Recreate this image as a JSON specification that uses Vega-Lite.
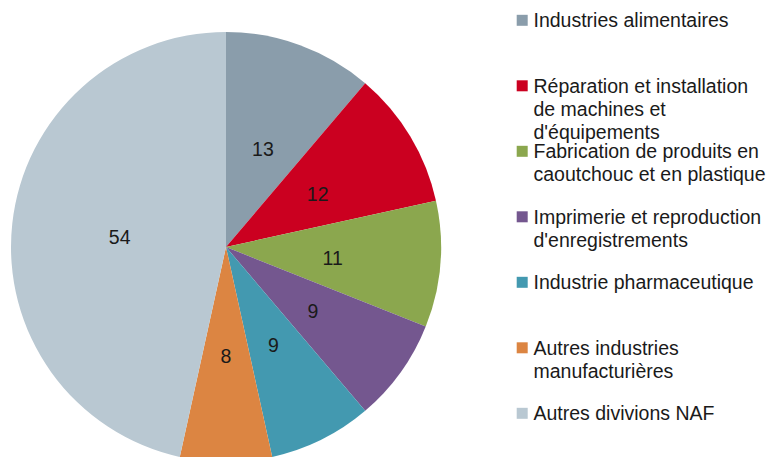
{
  "$schema": "https://vega.github.io/schema/vega-lite/v6.json",
  "padding": 0,
  "background": "white",
  "spacing": 64.7,
  "config": {
    "view": {"stroke": null},
    "font": "Liberation Sans"
  },
  "data": {
    "values": [
      {"category": "Industries alimentaires", "value": 13, "rank": 1, "lines": ["Industries alimentaires"]},
      {"category": "Réparation et installation de machines et d'équipements", "value": 12, "rank": 2, "lines": ["Réparation et installation", "de machines et", "d'équipements"]},
      {"category": "Fabrication de produits en caoutchouc et en plastique", "value": 11, "rank": 3, "lines": ["Fabrication de produits en", "caoutchouc et en plastique"]},
      {"category": "Imprimerie et reproduction d'enregistrements", "value": 9, "rank": 4, "lines": ["Imprimerie et reproduction", "d'enregistrements"]},
      {"category": "Industrie pharmaceutique", "value": 9, "rank": 5, "lines": ["Industrie pharmaceutique"]},
      {"category": "Autres industries manufacturières", "value": 8, "rank": 6, "lines": ["Autres industries", "manufacturières"]},
      {"category": "Autres divivions NAF", "value": 54, "rank": 7, "lines": ["Autres divivions NAF"]}
    ]
  },
  "hconcat": [
    {
      "width": 452,
      "height": 494,
      "encoding": {
        "theta": {"field": "value", "type": "quantitative", "stack": true},
        "order": {"field": "rank", "type": "quantitative"},
        "color": {
          "field": "category",
          "type": "nominal",
          "sort": null,
          "legend": null,
          "scale": {
            "domain": [
              "Industries alimentaires",
              "Réparation et installation de machines et d'équipements",
              "Fabrication de produits en caoutchouc et en plastique",
              "Imprimerie et reproduction d'enregistrements",
              "Industrie pharmaceutique",
              "Autres industries manufacturières",
              "Autres divivions NAF"
            ],
            "range": ["#8A9DAB", "#CB0020", "#8BA74E", "#74578F", "#4399B0", "#DC8542", "#B9C8D2"]
          }
        }
      },
      "layer": [
        {"mark": {"type": "arc", "outerRadius": 215}},
        {
          "mark": {"type": "text", "radius": 107, "fontSize": 19.5, "dy": 3, "font": "Liberation Sans"},
          "encoding": {
            "text": {"field": "value", "type": "quantitative"},
            "color": {"value": "#1a1a1a"}
          }
        }
      ]
    },
    {
      "width": 11,
      "height": {"step": 65.5},
      "encoding": {
        "y": {
          "field": "category",
          "type": "nominal",
          "sort": null,
          "axis": null,
          "scale": {
            "domain": [
              "Industries alimentaires",
              "Réparation et installation de machines et d'équipements",
              "Fabrication de produits en caoutchouc et en plastique",
              "Imprimerie et reproduction d'enregistrements",
              "Industrie pharmaceutique",
              "Autres industries manufacturières",
              "Autres divivions NAF"
            ],
            "padding": 0.31
          }
        }
      },
      "layer": [
        {
          "mark": {"type": "square", "size": 121, "opacity": 1, "strokeWidth": 0},
          "encoding": {
            "color": {"field": "category", "type": "nominal", "sort": null, "legend": null}
          }
        },
        {
          "mark": {"type": "text", "align": "left", "baseline": "alphabetic", "dx": 11.3, "dy": 7, "fontSize": 19.5, "lineHeight": 23, "font": "Liberation Sans"},
          "encoding": {
            "text": {"field": "lines", "type": "nominal"},
            "color": {"value": "#1a1a1a"}
          }
        }
      ]
    }
  ]
}
